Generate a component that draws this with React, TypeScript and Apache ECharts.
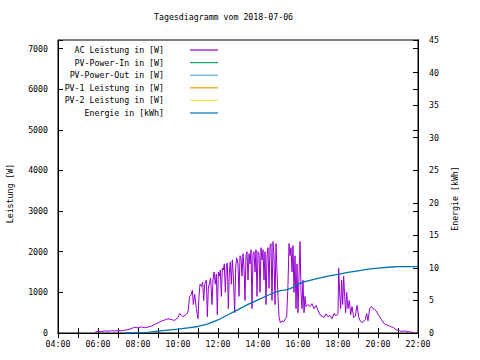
import React, { useEffect, useRef } from "react";
import * as echarts from "echarts";

const FONT = "DejaVu Sans Mono";
const FS = 8.25;

const TITLE = "Tagesdiagramm vom 2018-07-06";

const seriesNames = [
  "AC Leistung in [W]",
  "PV-Power-In in [W]",
  "PV-Power-Out in [W]",
  "PV-1 Leistung in [W]",
  "PV-2 Leistung in [W]",
  "Energie in [kWh]",
];
const seriesColors = ["#9400d3", "#009e73", "#56b4e9", "#e69f00", "#f0e442", "#0072b2"];

const acTimes = [
  "05:50","05:55","06:00","06:10","06:20","06:30","06:40","06:50","07:00","07:10",
  "07:20","07:30","07:40","07:50","08:00","08:10","08:20","08:30","08:40","08:50",
  "09:00","09:10","09:20","09:30","09:40","09:50","10:00","10:05","10:15","10:25",
  "10:30","10:35","10:40","10:43","10:46","10:50","10:55","11:00","11:03","11:06",
  "11:10","11:14","11:17","11:20","11:25","11:28","11:31","11:35","11:38","11:42",
  "11:45","11:48","11:52","11:55","11:58","12:01","12:04","12:07","12:10","12:13",
  "12:16","12:19","12:22","12:25","12:28","12:31","12:34","12:37","12:40","12:43",
  "12:46","12:50","12:53","12:56","13:00","13:03","13:06","13:09","13:12","13:15",
  "13:18","13:21","13:24","13:27","13:30","13:33","13:36","13:39","13:42","13:45",
  "13:48","13:51","13:54","13:57","14:00","14:03","14:06","14:09","14:12","14:15",
  "14:18","14:21","14:24","14:27","14:30","14:33","14:36","14:39","14:42","14:45",
  "14:48","14:51","14:54","14:57","15:00","15:03","15:07","15:12","15:17","15:22",
  "15:26","15:30","15:33","15:36","15:39","15:42","15:45","15:48","15:51","15:54",
  "15:57","16:00","16:03","16:06","16:09","16:12","16:15","16:18","16:21","16:24",
  "16:30","16:36","16:42","16:48","16:54","17:00","17:06","17:12","17:18","17:24",
  "17:30","17:36","17:42","17:48","17:54","18:00","18:02","18:05","18:08","18:11",
  "18:14","18:17","18:20","18:23","18:26","18:30","18:34","18:38","18:42","18:47",
  "18:52","18:57","19:02","19:07","19:12","19:17","19:22","19:26","19:30","19:35",
  "19:40","19:45","19:50","19:55","20:00","20:05","20:10","20:15","20:20","20:25",
  "20:30","20:35","20:40","20:45","20:50","20:55","21:00","21:05","21:10","21:20",
  "21:30","21:40","21:45","21:50",
];
const acWatts = [
  10,30,40,35,50,45,55,50,60,55,
  70,80,110,140,125,150,130,145,170,210,
  250,290,320,350,330,310,380,480,400,460,
  520,900,950,1050,700,950,600,350,900,1200,
  1150,1250,800,1200,1300,400,1100,1250,1350,700,
  1300,1500,1200,1450,450,1500,1400,1550,900,1600,
  1550,1700,1000,1650,1720,600,1500,1750,1200,1800,
  1400,500,1600,1850,1700,900,1900,1850,1400,1950,
  1600,800,1900,2000,1300,1950,1700,2050,600,1950,
  2000,1500,2050,900,2000,1950,1000,2100,1800,2050,
  1300,2000,700,1900,2100,1100,2150,2200,800,2250,
  1900,700,2200,1500,900,400,250,300,270,350,
  400,1200,2200,1900,2100,1500,2150,1000,1900,600,
  1700,500,1400,2250,1000,600,1300,500,900,650,
  700,650,720,600,680,560,450,420,380,470,
  400,430,350,480,420,470,1600,1000,600,1300,
  700,1400,900,500,1000,600,800,450,650,380,
  420,680,400,290,260,280,330,480,300,600,
  650,600,580,540,460,400,330,270,220,200,
  190,170,150,140,110,80,70,60,40,50,
  30,20,10,0,
];

const energyTimes = [
  "07:20","08:00","08:30","09:00","09:30","10:00","10:30","11:00","11:30","12:00",
  "12:30","13:00","13:30","14:00","14:30","15:00","15:10","15:20","15:30","15:45",
  "16:00","16:15","16:30","17:00","17:30","18:00","18:30","19:00","19:30","20:00",
  "20:30","21:00","22:00",
];
const energyKWh = [
  0,0.02,0.1,0.3,0.45,0.6,0.8,1.0,1.4,2.0,
  2.8,3.6,4.4,5.1,5.8,6.4,6.55,6.6,6.7,7.0,
  7.5,7.8,8.0,8.4,8.75,9.0,9.3,9.55,9.8,9.95,
  10.1,10.2,10.2,
];

const pvInWatts: number[] = [];
const pvOutWatts: number[] = [];
const pv1Watts: number[] = [];
const pv2Watts: number[] = [];

const toHours = (t: string) => {
  const [h, m] = t.split(":").map(Number);
  return h + m / 60;
};

const pad2 = (n: number) => (n < 10 ? "0" + n : "" + n);

export default function App() {
  const ref = useRef<HTMLDivElement>(null);
  useEffect(() => {
    if (!ref.current) return;
    const chart = echarts.init(ref.current, undefined, { renderer: "svg" });
    const txt = { fontFamily: FONT, fontSize: FS, color: "#000" };
    const axisLine = { show: true, lineStyle: { color: "#000", width: 1 } };
    const tick = { show: true, inside: true, length: 5, lineStyle: { color: "#000", width: 1 } };

    const acData = acTimes.map((t, i) => [toHours(t), acWatts[i]]);
    const enData = energyTimes.map((t, i) => [toHours(t), energyKWh[i]]);
    const emptyData = [pvInWatts, pvOutWatts, pv1Watts, pv2Watts];

    const series: any[] = [];
    series.push({
      name: seriesNames[0], type: "line", yAxisIndex: 0, data: acData,
      symbol: "none", color: seriesColors[0], lineStyle: { width: 1, color: seriesColors[0] },
    });
    emptyData.forEach((d, i) => {
      series.push({
        name: seriesNames[i + 1], type: "line", yAxisIndex: 0, data: d,
        symbol: "none", color: seriesColors[i + 1], lineStyle: { width: 1, color: seriesColors[i + 1] },
      });
    });
    series.push({
      name: seriesNames[5], type: "line", yAxisIndex: 1, data: enData,
      symbol: "none", color: seriesColors[5], lineStyle: { width: 1.3, color: seriesColors[5] },
    });

    chart.setOption({
      animation: false,
      backgroundColor: "#fff",
      title: {
        text: TITLE, left: 154, top: 13, padding: 0,
        textStyle: { ...txt, fontWeight: "normal" },
      },
      legend: {
        orient: "vertical", left: 63, top: 46, align: "right", padding: 0,
        icon: "rect", itemWidth: 28, itemHeight: 1.2, itemGap: 4.6, selectedMode: false,
        data: seriesNames,
        formatter: (n: string) => "{a|" + n + "}",
        textStyle: {
          ...txt,
          rich: { a: { ...txt, width: 101, align: "right", lineHeight: 10, padding: [0, 21, 0, 0] } },
        },
      },
      grid: { left: 58, right: 62, top: 40, bottom: 27, show: true, borderColor: "#000", borderWidth: 1, outerBoundsMode: "none" },
      xAxis: [
        {
          type: "value", min: 4, max: 22, interval: 1, position: "bottom",
          axisLine, axisTick: tick, splitLine: { show: false },
          axisLabel: {
            ...txt, margin: 7,
            formatter: (v: number) => (v % 2 === 0 ? pad2(v) + ":00" : ""),
          },
        },
        {
          type: "value", min: 4, max: 22, interval: 1, position: "top",
          axisLine, axisTick: tick, splitLine: { show: false }, axisLabel: { show: false },
        },
      ],
      yAxis: [
        {
          type: "value", min: 0, max: 7210, interval: 1000, position: "left",
          axisLine, axisTick: tick, splitLine: { show: false },
          axisLabel: { ...txt, margin: 10, formatter: (v: number) => (v % 1000 === 0 ? String(v) : "") },
          name: "Leistung [W]", nameLocation: "middle", nameRotate: 90, nameGap: 44,
          nameTextStyle: { ...txt, padding: [0, 14, 0, 0] },
        },
        {
          type: "value", min: 0, max: 45, interval: 5, position: "right",
          axisLine, axisTick: tick, splitLine: { show: false },
          axisLabel: { ...txt, margin: 11 },
          name: "Energie [kWh]", nameLocation: "middle", nameRotate: 90, nameGap: 33,
          nameTextStyle: { ...txt, padding: [0, 24, 0, 0] },
        },
        {
          type: "value", min: 0, max: 7210, interval: 1000, position: "right", offset: 0,
          axisLine, axisTick: tick, splitLine: { show: false }, axisLabel: { show: false },
        },
      ],
      series,
    });
    return () => chart.dispose();
  }, []);
  return (
    <div
      ref={ref}
      style={{ position: "fixed", left: 0, top: 0, width: 480, height: 360, background: "#fff" }}
    />
  );
}
